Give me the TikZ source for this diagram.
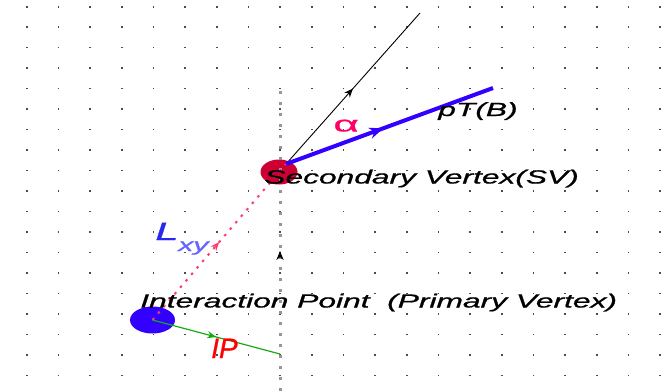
\documentclass[tikz,border=0pt]{standalone}
\usepackage{fontspec}
\setmainfont{Liberation Sans}
\newfontfamily\labfont{Liberation Sans}[FakeBold=0.7]
\usetikzlibrary{shapes.geometric,arrows.meta,decorations.markings}
\definecolor{svred}{RGB}{204,0,51}
\definecolor{ipblue}{RGB}{51,0,255}
\definecolor{linkpink}{RGB}{255,60,110}
\definecolor{ipgreen}{RGB}{20,170,20}
\definecolor{lblue}{RGB}{40,40,240}
\definecolor{xyblue}{RGB}{100,100,255}
\definecolor{alphapink}{RGB}{255,0,102}
\definecolor{ipred}{RGB}{255,0,0}
\definecolor{vgray}{RGB}{150,150,150}
\tikzset{
  griddot/.style={fill=black!70},
  lab/.style={font=\labfont\fontsize{19}{19}\selectfont\itshape, inner sep=0, xscale=1.67, transform shape, anchor=base west},
  midarrow/.style n args={3}{postaction={decorate}, decoration={markings, mark=at position #1 with {\arrow{Stealth[length=#3,width=#3*0.8,color=#2]}}}},
  vertexdot/.style={ellipse, inner sep=0, draw=none},
}
\begin{document}
\begin{tikzpicture}[x=1pt,y=-1pt]
\useasboundingbox (0,0) rectangle (672,391);
\fill[white] (0,0) rectangle (672,391);
% grid
\foreach \i in {0,...,20}
  \foreach \j in {0,...,18}
    \fill[griddot] ({26.7+31.67*\i-0.8},{6.7+20.48*\j-0.8}) rectangle ++(1.6,1.6);
% coordinates
\coordinate (sv) at (286,164);
\coordinate (ip) at (152.5,320);
\coordinate (blackend) at (420,13);
\coordinate (blueend) at (493,88);
\coordinate (ipend) at (280,354);
\coordinate (vbot) at (280,391);
\coordinate (vtop) at (280,90);
% vertex dots
\node[vertexdot, fill=svred, minimum width=37pt, minimum height=25pt] (svdot) at (279,172) {};
\node[vertexdot, fill=ipblue, minimum width=45pt, minimum height=27pt] (ipdot) at (152.5,320) {};
% vertical dotted axis
\draw[vgray, line width=3pt, dash pattern=on 3pt off 8pt, midarrow={0.465}{black}{9pt}] (vbot) -- (vtop);
% Lxy dotted link
\draw[linkpink, line width=2pt, dash pattern=on 2.5pt off 6pt, midarrow={0.5}{linkpink}{9pt}] (ip) -- (sv);
% IP line
\draw[ipgreen, line width=1.2pt, midarrow={0.5}{ipgreen}{9pt}] (ip) -- (ipend);
% track
\draw[black, line width=0.9pt, midarrow={0.5}{black}{9pt}] (sv) -- (blackend);
% pT(B)
\draw[ipblue, line width=4pt, midarrow={0.47}{ipblue}{14pt}] (sv) -- (blueend);
% labels
\node[lab] (svlab) at (264,183.5) {Secondary Vertex(SV)};
\node[lab] (iplab) at (140,307.5) {Interaction Point\ \ (Primary Vertex)};
\node[lab] (ptlab) at (438,116) {pT(B)};
\node[lab, text=alphapink, font=\labfont\fontsize{22}{22}\selectfont, xscale=1.2] (alab) at (333,131.5) {α};
\node[lab, text=lblue, font=\labfont\fontsize{25}{25}\selectfont\itshape] (llab) at (155,240) {L};
\node[lab, text=xyblue, font=\labfont\fontsize{18}{18}\selectfont\itshape] (xylab) at (178,251) {xy};
\node[lab, text=ipred, font=\labfont\fontsize{28}{28}\selectfont\itshape, xscale=0.6] (iplabel) at (211,358) {IP};
\end{tikzpicture}
\end{document}
